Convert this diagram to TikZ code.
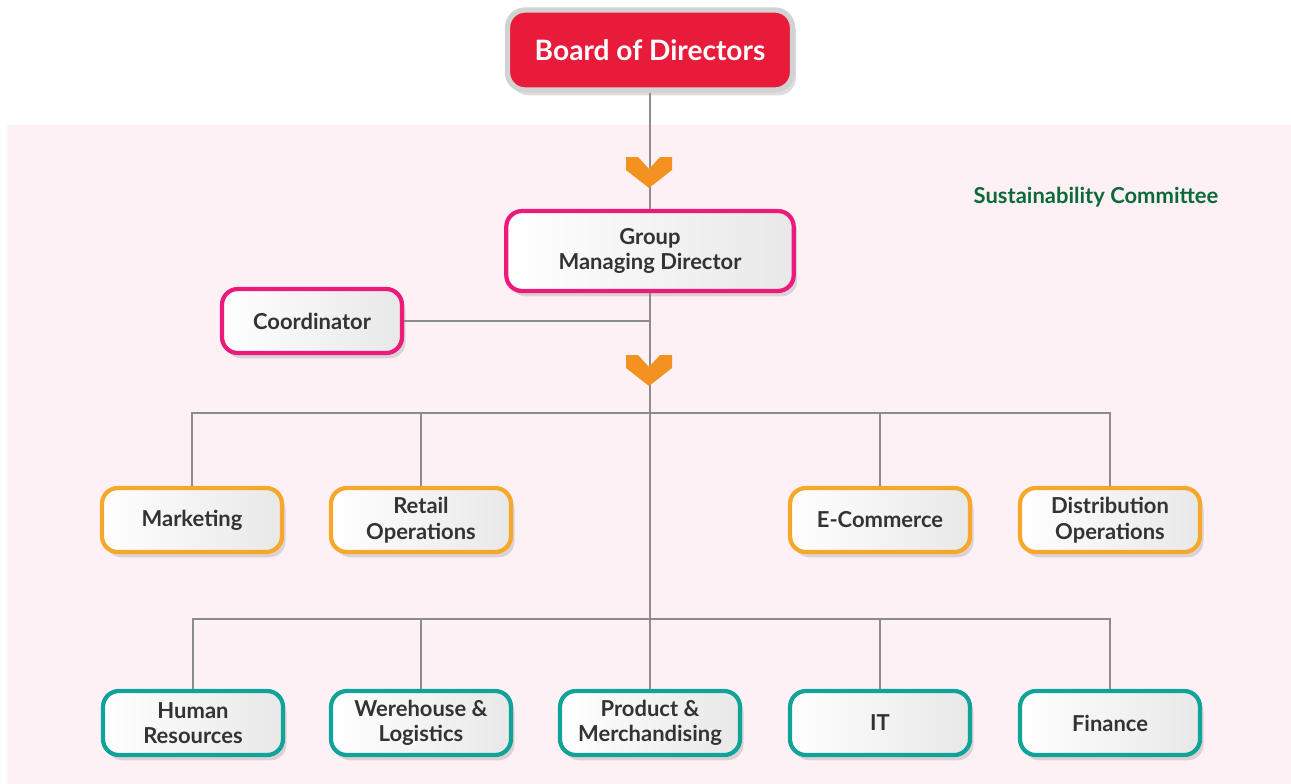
\documentclass[tikz,border=0pt]{standalone}
\usepackage{fontspec}
\setmainfont{Lato}
\usetikzlibrary{shadows,positioning,calc}

\definecolor{boardred}{HTML}{E91B3A}
\definecolor{gmdpink}{HTML}{EC1A7B}
\definecolor{deptorange}{HTML}{F5A82C}
\definecolor{deptteal}{HTML}{10A39A}
\definecolor{linegray}{HTML}{8C8C8C}
\definecolor{textgray}{HTML}{333333}
\definecolor{arrowor}{HTML}{F39220}
\definecolor{bgpink}{HTML}{FDF1F5}
\definecolor{greentext}{HTML}{0C6A3A}

\begin{document}
\begin{tikzpicture}[x=0.02cm,y=-0.02cm,
    box/.style={rounded corners=9pt,line width=2.4pt,left color=white,right color=gray!18,
        text=textgray,font=\bfseries\fontsize{12.5}{14.5}\selectfont,align=center,
        minimum width=3.6cm,minimum height=1.28cm,
        drop shadow={shadow xshift=2pt,shadow yshift=-3pt,opacity=0.22,fill=black!60}},
    topbox/.style={box,draw=gmdpink,minimum width=5.75cm,minimum height=1.6cm},
    orbox/.style={box,draw=deptorange},
    tealbox/.style={box,draw=deptteal},
    wire/.style={draw=linegray,line width=1.1pt},
    chev/.style={fill=arrowor}]

    \useasboundingbox (0,0) rectangle (1291,784);
    \fill[bgpink] (7,125) rectangle (1291,784);

    % top of the chart
    \node[rounded corners=10pt,fill=boardred,draw=gray!35,line width=3pt,text=white,
        font=\bfseries\fontsize{16}{19}\selectfont,minimum width=5.7cm,minimum height=1.6cm,
        drop shadow={shadow xshift=2pt,shadow yshift=-3pt,opacity=0.22,fill=black!60}]
        (board) at (650,50) {Board of Directors};
    \node[topbox] (gmd) at (650,251) {Group\\Managing Director};
    \node[box,draw=gmdpink] (coord) at (312,321) {Coordinator};

    % departments
    \foreach \name/\xpos/\txt in {mkt/192/Marketing, retail/421/Retail\\Operations,
        ecom/880/E-Commerce, distr/1110/Distribution\\Operations}{
        \node[orbox] (\name) at (\xpos,520) {\txt};
    }
    \foreach \name/\xpos/\txt in {hr/193/Human\\Resources, wh/421/Werehouse \&\\Logistics,
        prod/650/Product \&\\Merchandising, it/880/IT, fin/1110/Finance}{
        \node[tealbox] (\name) at (\xpos,723) {\txt};
    }

    \node[text=greentext,font=\bfseries\fontsize{12.5}{14}\selectfont] (sust) at (1096,197) {Sustainability Committee};

    \coordinate (busA) at (650,413);
    \coordinate (busB) at (650,619);

    % connectors
    \draw[wire] (board.south) -- (gmd.north);
    \draw[wire] (gmd.south) -- (prod.north);
    \draw[wire] (coord.east) -- (coord.east -| gmd.south);
    \draw[wire] (mkt.north) |- (busA) -| (distr.north);
    \draw[wire] (retail.north) -- (retail.north |- busA);
    \draw[wire] (ecom.north) -- (ecom.north |- busA);
    \draw[wire] (hr.north) |- (busB) -| (fin.north);
    \draw[wire] (wh.north) -- (wh.north |- busB);
    \draw[wire] (it.north) -- (it.north |- busB);

    % chevrons on the main line
    \foreach \cy in {172,370}{
        \fill[chev] (626,\cy-15) -- (638,\cy-15) -- (649,\cy-3) -- (660,\cy-15) -- (672,\cy-15)
            -- (672,\cy-2) -- (649,\cy+16) -- (626,\cy-2) -- cycle;
    }

\end{tikzpicture}
\end{document}
